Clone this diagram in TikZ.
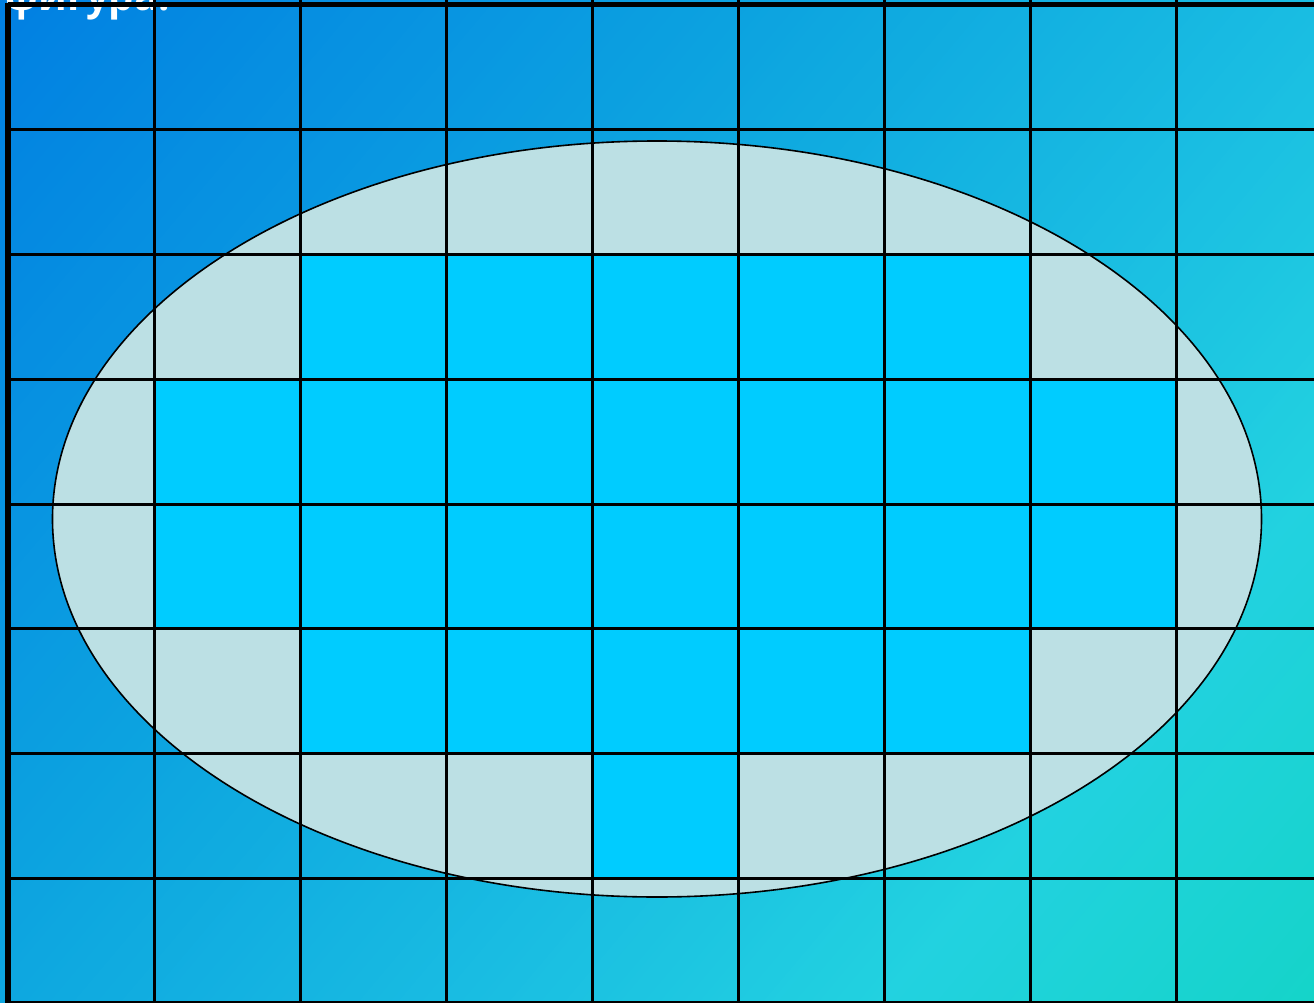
\documentclass[tikz,border=0pt]{standalone}
\usepackage{fontspec}
\setmainfont{Open Sans}
\begin{document}
\begin{tikzpicture}[x=1pt,y=-1pt,
  gridline/.style={black,line width=3pt},
  cellfill/.style={fill=cellcyan}]
\definecolor{gA}{RGB}{0,124,226}
\definecolor{gB}{RGB}{14,168,224}
\definecolor{gC}{RGB}{26,190,226}
\definecolor{gD}{RGB}{34,210,224}
\definecolor{gE}{RGB}{18,212,196}
\definecolor{ellfill}{RGB}{188,224,228}
\definecolor{cellcyan}{RGB}{0,204,255}
\useasboundingbox (0,0) rectangle (1314,1003);
% diagonal gradient background, drawn as thin strips
\begin{scope}
\clip (0,0) rectangle (1314,1003);
\foreach \da/\db/\ca/\cb in {-60/660/gA/gB, 660/1023/gB/gC, 1023/1320/gC/gD, 1320/1720/gD/gE}{
  \pgfmathtruncatemacro\nst{(\db-\da)/6}
  \pgfmathsetmacro\stp{(\db-\da)/\nst}
  \foreach \k in {1,...,\nst}{
    \pgfmathsetmacro\dlo{\da+\stp*(\k-1)}
    \pgfmathsetmacro\dhi{\da+\stp*\k+0.8}
    \pgfmathtruncatemacro\pc{(\k-0.5)/\nst*100}
    \fill[\cb!\pc!\ca] ({\dlo*0.7637+760},{\dlo*0.6456-900}) -- ({\dhi*0.7637+760},{\dhi*0.6456-900})
      -- ({\dhi*0.7637-760},{\dhi*0.6456+900}) -- ({\dlo*0.7637-760},{\dlo*0.6456+900}) -- cycle;
  }
}
\end{scope}
% title text, cut off at the top
\node[anchor=base east,text=white,font=\bfseries\fontsize{40}{44}\selectfont,inner sep=0pt] (title) at (170,11) {фигура.};
% ellipse
\fill[ellfill] (657,519) ellipse [x radius=604.5,y radius=378];
% cyan cells
\foreach \r/\a/\b in {2/2/6,3/1/7,4/1/7,5/2/6,6/4/4}{
  \foreach \c in {\a,...,\b}{
    \fill[cellfill] ({8+146*\c},{5+124.75*\r}) rectangle ({8+146*(\c+1)},{5+124.75*(\r+1)});
  }
}
\draw[black,line width=1.6pt] (657,519) ellipse [x radius=604.5,y radius=378];
% grid
\foreach \i in {1,...,8}{
  \draw[gridline] ({8+146*\i},0) -- ({8+146*\i},1003);
}
\foreach \j in {1,...,7}{
  \draw[gridline] (8,{5+124.75*\j}) -- (1314,{5+124.75*\j});
}
\draw[black,line width=5pt] (8,5) -- (1314,5);
\draw[black,line width=3pt] (8,1002) -- (1314,1002);
\draw[black,line width=6pt] (8,3) -- (8,1003);
\end{tikzpicture}
\end{document}
